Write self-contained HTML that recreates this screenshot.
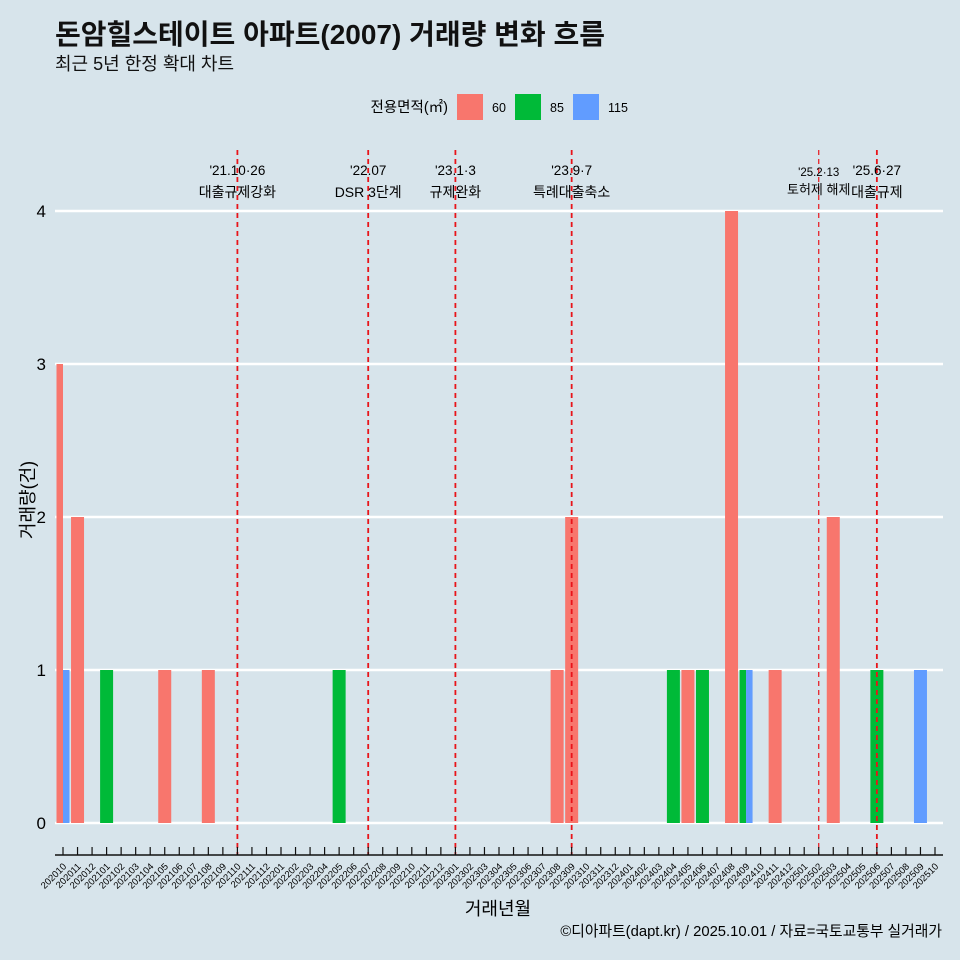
<!DOCTYPE html>
<html><head><meta charset="utf-8"><style>
body{margin:0;background:#d7e4eb;}
svg{display:block;font-family:"Liberation Sans","Noto Sans CJK KR",sans-serif;}
</style></head><body>
<svg id="c" width="960" height="960" viewBox="0 0 960 960">
<rect width="960" height="960" fill="#d7e4eb"/>
<text x="55" y="44" font-size="28" font-weight="bold" fill="#111">돈암힐스테이트 아파트(2007) 거래량 변화 흐름</text>
<text x="55" y="70" font-size="18" fill="#111">최근 5년 한정 확대 차트</text>
<g id="legend">
<text x="448" y="112" font-size="14.5" text-anchor="end">전용면적(㎡)</text>
</g>
<g id="grid"></g><g id="bars"></g><g id="vlines"></g><g id="axes"></g>
<text transform="translate(34,500) rotate(-90)" font-size="18" text-anchor="middle">거래량(건)</text>
<text x="498" y="915" font-size="18" text-anchor="middle">거래년월</text>
<text x="942" y="936" font-size="14.8" text-anchor="end">©디아파트(dapt.kr) / 2025.10.01 / 자료=국토교통부 실거래가</text>
</svg>
<script>
const months=[];for(let y=2020;y<=2025;y++)for(let m=1;m<=12;m++){const k=y*100+m;if(k>=202010&&k<=202510)months.push(String(k));}
const seriesNames=["60","85","115"];
const seriesColors=["#f8766d","#00ba38","#619cff"];
const v60={"202010":3,"202011":2,"202105":1,"202108":1,"202308":1,"202309":2,"202405":1,"202408":4,"202411":1,"202503":2};
const v85={"202101":1,"202205":1,"202404":1,"202406":1,"202409":1,"202506":1};
const v115={"202010":1,"202409":1,"202509":1};
const yTicks=[0,1,2,3,4];
const events=[["202110","'21.10·26","대출규제강화"],["202207","'22.07","DSR 3단계"],["202301","'23.1·3","규제완화"],["202309","'23.9·7","특례대출축소"],["202502","'25.2·13","토허제 해제"],["202506","'25.6·27","대출규제"]];
const NS="http://www.w3.org/2000/svg";
function mk(t,a,p,txt){const e=document.createElementNS(NS,t);for(const k in a)e.setAttribute(k,a[k]);if(txt!==undefined)e.textContent=txt;document.getElementById(p).appendChild(e);return e;}
const x=i=>63+i*(935-63)/(months.length-1);
const y=v=>823-v*153;
const bw=13;
seriesNames.forEach((n,i)=>{
 const r=mk('rect',{x:457+i*58,y:94,width:26,height:26,fill:seriesColors[i]},'legend');
 
 
 const t=mk('text',{x:492+i*58,y:112,'font-size':12.5},'legend',n);
 
 
});
yTicks.forEach(v=>{
 const l=mk('line',{x1:55,x2:943,y1:y(v),y2:y(v),stroke:'#fff','stroke-width':2.5},'grid');
 
 
 const t=mk('text',{x:46,y:y(v)+6,'font-size':17,'text-anchor':'end'},'axes',String(v));
 
 
});
const data=[v60,v85,v115];
months.forEach((m,i)=>{
 const present=[0,1,2].filter(s=>data[s][m]);
 const n=present.length;
 present.forEach((s,j)=>{
  const w=bw/n, x0=x(i)-bw/2+j*w, v=data[s][m];
  const r=mk('rect',{x:x0,y:y(v),width:w,height:y(0)-y(v),fill:seriesColors[s]},'bars');
  
  
 });
});
events.forEach(([m,d,l])=>{
 const i=months.indexOf(m),xx=x(i),small=(m==="202502");
 const ln=mk('line',{x1:xx,x2:xx,y1:150,y2:855,stroke:'#e8141a','stroke-width':small?1.2:1.8,'stroke-dasharray':'5,4'},'vlines');
 
 
 const t1=mk('text',{x:xx,y:small?176:175,'font-size':small?11.5:13.5,'text-anchor':'middle'},'vlines',d);
 
 
 const t2=mk('text',{x:xx,y:small?194:197,'font-size':small?13:14,'text-anchor':'middle'},'vlines',l);
 
 
});
const ax=mk('line',{x1:55,x2:943,y1:855,y2:855,stroke:'#111','stroke-width':1.5},'axes');


months.forEach((m,i)=>{
 const tk=mk('line',{x1:x(i),x2:x(i),y1:847,y2:855,stroke:'#111','stroke-width':1.2},'axes');
 
 
 const t=mk('text',{x:x(i)+4,y:867,'font-size':9.5,'text-anchor':'end',transform:`rotate(-45 ${x(i)+4} 867)`},'axes',m);
 
 
});
</script>
</body></html>
